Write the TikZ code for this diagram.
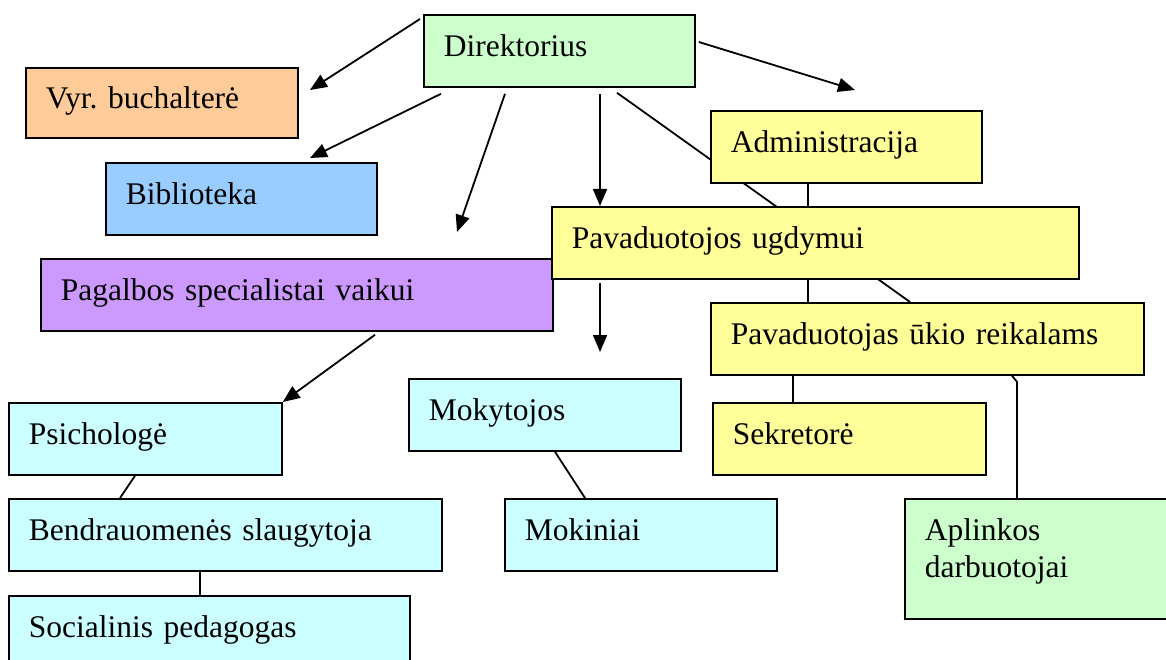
\documentclass[tikz,border=0pt]{standalone}
\usepackage{fontspec}
\setmainfont{Liberation Serif}
\usetikzlibrary{arrows.meta,backgrounds}
\definecolor{boxgreen}{HTML}{CCFFCC}
\definecolor{boxorange}{HTML}{FFCC99}
\definecolor{boxblue}{HTML}{99CCFF}
\definecolor{boxpurple}{HTML}{CC99FF}
\definecolor{boxyellow}{HTML}{FFFF99}
\definecolor{boxcyan}{HTML}{CCFFFF}

\begin{document}
\begin{tikzpicture}[x=1pt,y=-1pt,
  box/.style={draw,line width=1.8pt,anchor=north west,minimum height=72pt,
    inner xsep=20pt,inner ysep=0pt,align=left,text height=23pt,text depth=11pt,
    font=\fontsize{31.5}{37}\selectfont},
  link/.style={line width=1.8pt},
  arr/.style={line width=1.8pt,-{Triangle[length=17pt,width=14pt]}}]
\useasboundingbox (0,0) rectangle (1166,660);
% top level
\node[box,fill=boxgreen,text width=231pt] (dir) at (423,14) {Direktorius};
\node[box,fill=boxorange,text width=232pt,minimum height=70pt] (vyr) at (25,67) {Vyr.\ buchalterė};
\node[box,fill=boxblue,text width=231pt] (bib) at (105,162) {Biblioteka};
\node[box,fill=boxpurple,text width=472pt] (pag) at (40,258) {Pagalbos specialistai vaikui};
% deputies
\node[box,fill=boxyellow,text width=231pt] (adm) at (710,110) {Administracija};
\node[box,fill=boxyellow,text width=487pt] (ugd) at (551,206) {Pavaduotojos ugdymui};
\node[box,fill=boxyellow,text width=393pt] (ukio) at (710,302) {Pavaduotojas ūkio reikalams};
\node[box,fill=boxyellow,text width=233pt] (sek) at (712,402) {Sekretorė};
\node[box,fill=boxgreen,text width=236pt,minimum height=120pt,text depth=59pt] (apl) at (904,498) {Aplinkos\\darbuotojai};
% support staff
\node[box,fill=boxcyan,text width=233pt] (psy) at (8,402) {Psichologė};
\node[box,fill=boxcyan,text width=393pt] (ben) at (8,498) {Bendrauomenės slaugytoja};
\node[box,fill=boxcyan,text width=361pt] (soc) at (8,595) {Socialinis pedagogas};
% teaching
\node[box,fill=boxcyan,text width=232pt] (mok) at (408,378) {Mokytojos};
\node[box,fill=boxcyan,text width=232pt] (mokin) at (504,498) {Mokiniai};

\coordinate (vyrtip) at (310,90);
\coordinate (bibtip) at (310,158);
\coordinate (pagtip) at (457,232);
\coordinate (admtip) at (855,90);
\coordinate (moktip) at (600,352);

\draw[arr] ([xshift=-3pt,yshift=-5pt]dir.north west) -- (vyrtip);
\draw[arr] ([xshift=18pt,yshift=-6pt]dir.south west) -- (bibtip);
\draw[arr] ([xshift=82pt,yshift=-6pt]dir.south west) -- (pagtip);
\draw[arr] ([xshift=177pt,yshift=-6pt]dir.south west) -- ([xshift=49pt]ugd.north west);
\draw[arr] ([xshift=3pt,yshift=-28pt]dir.north east) -- (admtip);
\draw[arr] ([xshift=49pt,yshift=-3pt]ugd.south west) -- (moktip);
\draw[arr] ([xshift=335pt,yshift=-3pt]pag.south west) -- (psy.north east);
\begin{scope}[on background layer]
\draw[link] ([xshift=194pt,yshift=-5pt]dir.south west) -- ([xshift=200pt]ukio.north west);
\draw[link] ([xshift=98pt]adm.south west) -- ([xshift=98pt]ukio.north west);
\end{scope}
\draw[link] ([xshift=127pt]psy.south west) -- ([xshift=112pt]ben.north west);
\draw[link] ([xshift=192pt]ben.south west) -- ([xshift=192pt]soc.north west);
\draw[link] ([xshift=147pt]mok.south west) -- ([xshift=81pt]mokin.north west);
\draw[link] ([xshift=83pt]ukio.south west) -- ([xshift=81pt]sek.north west);
\draw[link] ([xshift=302pt]ukio.south west) -- ++(5,6) -- ([xshift=113pt]apl.north west);
\end{tikzpicture}
\end{document}
